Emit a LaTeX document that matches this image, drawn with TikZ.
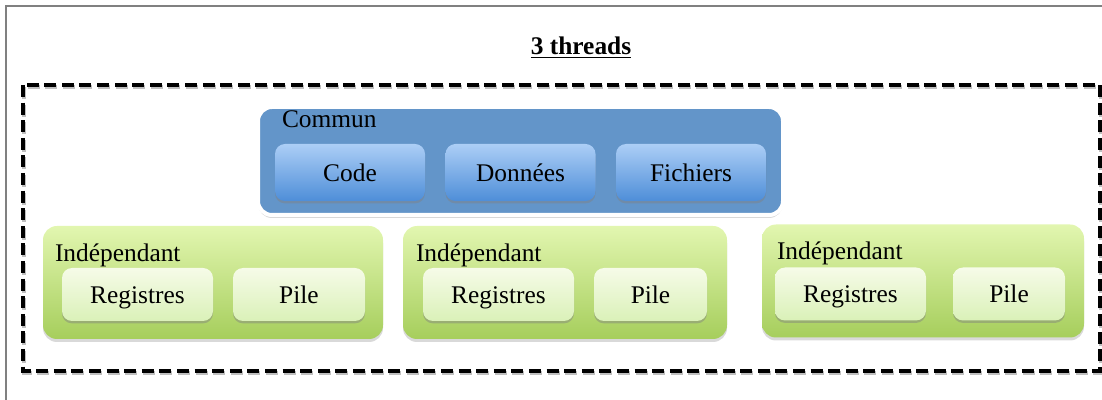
\documentclass[tikz,border=0pt]{standalone}
\usepackage{fontspec}
\setmainfont{Liberation Serif}
\usetikzlibrary{shadows}
\definecolor{communblue}{RGB}{99,149,201}
\definecolor{parttop}{RGB}{172,206,246}
\definecolor{partbot}{RGB}{78,142,216}
\definecolor{threadtop}{RGB}{226,246,176}
\definecolor{threadbot}{RGB}{166,206,92}
\definecolor{regtop}{RGB}{246,251,232}
\definecolor{regbot}{RGB}{218,241,184}

\begin{document}
\begin{tikzpicture}[x=0.5pt,y=-0.5pt,
  every node/.style={font=\fontsize{12.7}{15}\selectfont, inner sep=0pt, outer sep=0pt,
    text height=11pt, text depth=2.2pt},
  commun/.style={draw=white, line width=2pt, fill=communblue, rounded corners=7pt,
    minimum width=262.5pt, minimum height=54pt,
    drop shadow={shadow xshift=0pt, shadow yshift=-1.5pt, opacity=0.3}},
  partbox/.style={top color=parttop, bottom color=partbot, rounded corners=5pt,
    minimum width=75pt, minimum height=28.5pt,
    drop shadow={shadow xshift=0pt, shadow yshift=-1.2pt, opacity=0.45}},
  threadbox/.style={top color=threadtop, bottom color=threadbot, rounded corners=7pt,
    minimum height=56.5pt,
    drop shadow={shadow xshift=0pt, shadow yshift=-1.5pt, opacity=0.3}},
  regbox/.style={top color=regtop, bottom color=regbot, rounded corners=5pt,
    minimum height=26.5pt,
    drop shadow={shadow xshift=0pt, shadow yshift=-1.2pt, opacity=0.45}},
  cadre/.style={line width=2pt, dash pattern=on 6pt off 2.8pt}]

\useasboundingbox (0,0) rectangle (1102,400);
\draw[gray, line width=1pt] (6,400) -- (6,6) -- (1102,6);

\node (titre) at (581,46) {\underline{\textbf{3 threads}}};

% cadre pointille
\draw[cadre, black, opacity=0.25] (24,87) rectangle (1101,373);
\draw[cadre] (23,85) rectangle (1100,371);

% partie commune
\node[commun] (commun) at (520.5,161) {};
\node[anchor=west] (lcommun) at (282,119) {Commun};
\node[partbox] (code) at (350,172.5) {Code};
\node[partbox] (donnees) at (520.5,172.5) {Données};
\node[partbox] (fichiers) at (691,172.5) {Fichiers};

% threads
\node[threadbox, minimum width=170pt] (t1) at (213,282.5) {};
\node[threadbox, minimum width=162pt] (t2) at (565,282.5) {};
\node[threadbox, minimum width=161pt] (t3) at (923,281) {};

\node[anchor=west] (l1) at (55,253) {Indépendant};
\node[anchor=west] (l2) at (416,253) {Indépendant};
\node[anchor=west] (l3) at (777,251) {Indépendant};

\node[regbox, minimum width=75.5pt] (reg1) at (137.5,294.5) {Registres};
\node[regbox, minimum width=66pt] (pile1) at (299,294.5) {Pile};
\node[regbox, minimum width=75.5pt] (reg2) at (498.5,294.5) {Registres};
\node[regbox, minimum width=56.5pt] (pile2) at (650.5,294.5) {Pile};
\node[regbox, minimum width=75.5pt] (reg3) at (850.5,294) {Registres};
\node[regbox, minimum width=56pt] (pile3) at (1009,294) {Pile};
\end{tikzpicture}
\end{document}
